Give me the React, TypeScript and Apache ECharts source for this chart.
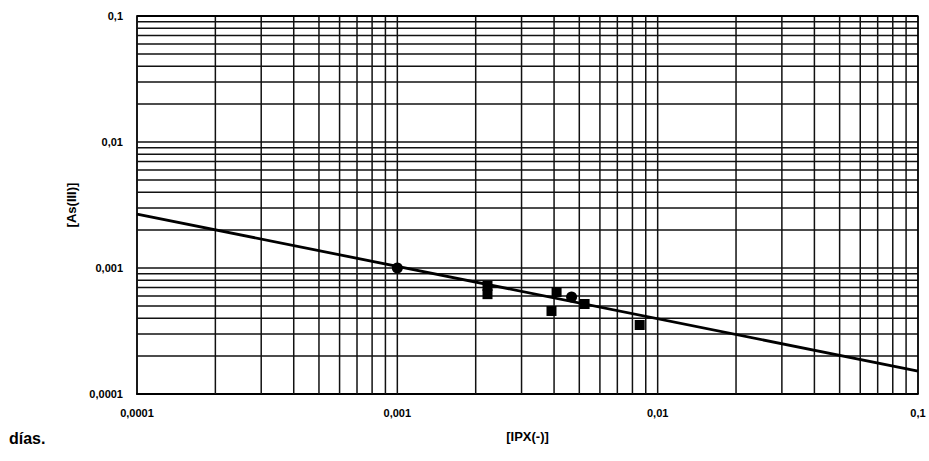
import React, { useEffect, useRef } from "react";
import * as echarts from "echarts";

// Data (log-log chart)
const circleX = [0.001, 0.00467];
const circleY = [0.001, 0.000589];
const squareX = [0.00222, 0.00222, 0.00409, 0.00391, 0.00524, 0.00853];
const squareY = [0.00072, 0.00062, 0.000645, 0.000456, 0.000518, 0.000353];
const fitX = [0.0001, 0.1];
const fitY = [0.00268, 0.000152];

const tickValues = [0.0001, 0.001, 0.01, 0.1];
const tickLabels = ["0,0001", "0,001", "0,01", "0,1"];
const decades = [0.0001, 0.001, 0.01];
const multipliers = [1, 2, 3, 4, 5, 6, 7, 8, 9];
const axisMin = 0.0001;
const axisMax = 0.1;

const xTitle = "[IPX(-)]";
const yTitle = "[As(III)]";
const footText = "días.";

function labelFor(v: number): string {
  let best = 0;
  let bestD = Infinity;
  tickValues.forEach((t, i) => {
    const d = Math.abs(Math.log10(v) - Math.log10(t));
    if (d < bestD) {
      bestD = d;
      best = i;
    }
  });
  return bestD < 0.01 ? tickLabels[best] : "";
}

export default function App() {
  const ref = useRef<HTMLDivElement>(null);

  useEffect(() => {
    if (!ref.current) return;
    const chart = echarts.init(ref.current, undefined, { renderer: "svg" });

    const gridVals: number[] = [];
    decades.forEach((d) => multipliers.forEach((m) => gridVals.push(Number((d * m).toPrecision(3)))));
    const inner = gridVals.filter((v) => v > axisMin * 1.001 && v < axisMax * 0.999);

    const gridLine = { color: "#111", width: 1.5 };
    const gridSeries: any[] = [];
    inner.forEach((v) => {
      gridSeries.push({
        type: "line",
        silent: true,
        showSymbol: false,
        data: [
          [v, axisMin],
          [v, axisMax],
        ],
        lineStyle: gridLine,
        z: 1,
      });
      gridSeries.push({
        type: "line",
        silent: true,
        showSymbol: false,
        data: [
          [axisMin, v],
          [axisMax, v],
        ],
        lineStyle: gridLine,
        z: 1,
      });
    });
    // right and top border
    gridSeries.push({
      type: "line",
      silent: true,
      showSymbol: false,
      data: [
        [axisMin, axisMax],
        [axisMax, axisMax],
        [axisMax, axisMin],
      ],
      lineStyle: { color: "#000", width: 1.8 },
      z: 1,
    });

    const font = "'Liberation Sans', Arial, sans-serif";

    chart.setOption({
      animation: false,
      backgroundColor: "#fff",
      grid: { left: 137, right: 11, top: 16, bottom: 67, show: false },
      xAxis: {
        type: "log",
        logBase: 10,
        min: axisMin,
        max: axisMax,
        name: xTitle,
        nameLocation: "middle",
        nameGap: 36,
        nameTextStyle: { fontFamily: font, fontWeight: "bold", fontSize: 13, color: "#000" },
        axisLine: { show: true, lineStyle: { color: "#000", width: 1.8 } },
        axisTick: { show: false },
        splitLine: { show: false },
        axisLabel: {
          margin: 13,
          fontFamily: font,
          fontWeight: "bold",
          fontSize: 11,
          color: "#000",
          formatter: (v: number) => labelFor(v),
        },
      },
      yAxis: {
        type: "log",
        logBase: 10,
        min: axisMin,
        max: axisMax,
        name: yTitle,
        nameLocation: "middle",
        nameGap: 58,
        nameTextStyle: { fontFamily: font, fontWeight: "bold", fontSize: 13, color: "#000" },
        axisLine: { show: true, lineStyle: { color: "#000", width: 1.8 } },
        axisTick: { show: false },
        splitLine: { show: false },
        axisLabel: {
          margin: 14,
          fontFamily: font,
          fontWeight: "bold",
          fontSize: 11,
          color: "#000",
          formatter: (v: number) => labelFor(v),
        },
      },
      graphic: [
        {
          type: "text",
          left: 9,
          top: 430,
          style: {
            text: footText,
            font: `bold 16px ${font}`,
            fill: "#000",
          },
        },
      ],
      series: [
        ...gridSeries,
        {
          type: "line",
          name: "fit",
          data: fitX.map((x, i) => [x, fitY[i]]),
          showSymbol: false,
          lineStyle: { color: "#000", width: 2.8 },
          z: 5,
        },
        {
          type: "scatter",
          name: "squares",
          data: squareX.map((x, i) => [x, squareY[i]]),
          symbol: "rect",
          symbolSize: 10,
          itemStyle: { color: "#000", opacity: 1 },
          z: 6,
        },
        {
          type: "scatter",
          name: "circles",
          data: circleX.map((x, i) => [x, circleY[i]]),
          symbol: "circle",
          symbolSize: 11,
          itemStyle: { color: "#000", opacity: 1 },
          z: 6,
        },
      ],
    });

    return () => chart.dispose();
  }, []);

  return (
    <div
      ref={ref}
      style={{ position: "fixed", left: 0, top: 0, width: 929, height: 461, background: "#fff" }}
    />
  );
}
